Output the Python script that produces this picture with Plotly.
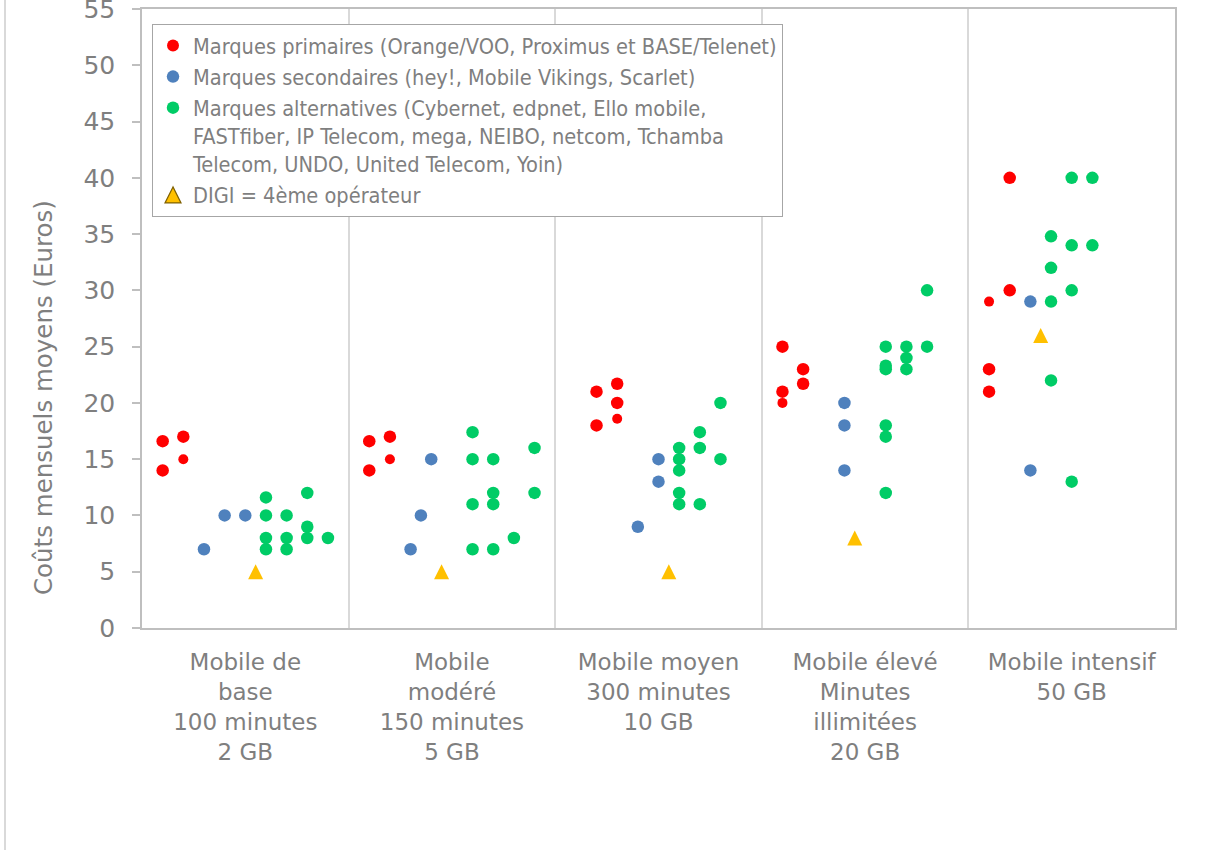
import plotly.graph_objects as go

# ---------------- data ----------------
categories = [
    "Mobile de<br>base<br>100 minutes<br>2 GB",
    "Mobile<br>modéré<br>150 minutes<br>5 GB",
    "Mobile moyen<br>300 minutes<br>10 GB",
    "Mobile élevé<br>Minutes<br>illimitées<br>20 GB",
    "Mobile intensif<br>50 GB",
]
category_centers = [0.5, 1.5, 2.5, 3.5, 4.5]
y_tick_values = [0, 5, 10, 15, 20, 25, 30, 35, 40, 45, 50, 55]

primary_name = "Marques primaires (Orange/VOO, Proximus et BASE/Telenet)"
primary_x = [0.1, 0.2, 0.1, 0.2,
             1.1, 1.2, 1.1, 1.2,
             2.2, 2.3, 2.3, 2.3, 2.2,
             3.1, 3.1, 3.1, 3.2, 3.2,
             4.2, 4.2, 4.1, 4.1, 4.1]
primary_y = [16.6, 17.0, 14.0, 15.0,
             16.6, 17.0, 14.0, 15.0,
             21.0, 21.7, 20.0, 18.6, 18.0,
             25.0, 21.0, 20.0, 23.0, 21.7,
             40.0, 30.0, 29.0, 23.0, 21.0]

secondary_name = "Marques secondaires (hey!, Mobile Vikings, Scarlet)"
secondary_x = [0.3, 0.4, 0.5,
               1.3, 1.35, 1.4,
               2.4, 2.5, 2.5,
               3.4, 3.4, 3.4,
               4.3, 4.3]
secondary_y = [7.0, 10.0, 10.0,
               7.0, 10.0, 15.0,
               9.0, 15.0, 13.0,
               20.0, 18.0, 14.0,
               29.0, 14.0]

alternative_name = ("Marques alternatives (Cybernet, edpnet, Ello mobile,<br>"
                    "FASTfiber, IP Telecom, mega, NEIBO, netcom, Tchamba<br>"
                    "Telecom, UNDO, United Telecom, Yoin)")
alternative_x = [0.6, 0.6, 0.6, 0.6, 0.7, 0.7, 0.7, 0.8, 0.8, 0.8, 0.9,
                 1.6, 1.6, 1.6, 1.6, 1.7, 1.7, 1.7, 1.7, 1.8, 1.9, 1.9,
                 2.6, 2.6, 2.6, 2.6, 2.6, 2.7, 2.7, 2.7, 2.8, 2.8,
                 3.6, 3.6, 3.6, 3.6, 3.6, 3.6, 3.7, 3.7, 3.7, 3.8, 3.8,
                 4.4, 4.4, 4.4, 4.4, 4.5, 4.5, 4.5, 4.5, 4.6, 4.6]
alternative_y = [11.6, 10.0, 8.0, 7.0, 10.0, 8.0, 7.0, 12.0, 9.0, 8.0, 8.0,
                 17.4, 15.0, 11.0, 7.0, 15.0, 12.0, 11.0, 7.0, 8.0, 16.0, 12.0,
                 16.0, 15.0, 14.0, 12.0, 11.0, 17.4, 16.0, 11.0, 20.0, 15.0,
                 25.0, 23.3, 23.0, 18.0, 17.0, 12.0, 25.0, 24.0, 23.0, 30.0, 25.0,
                 34.8, 32.0, 29.0, 22.0, 40.0, 34.0, 30.0, 13.0, 40.0, 34.0]

digi_name = "DIGI = 4ème opérateur"
digi_x = [0.55, 1.45, 2.55, 3.45, 4.35]
digi_y = [5.0, 5.0, 5.0, 8.0, 26.0]

# ---------------- style ----------------
GRAY_TEXT = "#7F7F7F"
SMALL_PRIMARY = {3, 7, 11, 15, 20}
primary_sizes = [10 if i in SMALL_PRIMARY else 12.5 for i in range(len(primary_x))]
legend_font = "DejaVu Sans Condensed, Liberation Sans Narrow, DejaVu Sans, sans-serif"

W, H = 1207, 850
ML, MR, MT, MB = 142, 32, 9, 222
PW, PH = W - ML - MR, H - MT - MB


def px_x(p):
    return (p - ML) / PW


def px_y(p):
    return (H - MB - p) / PH


fig = go.Figure()
fig.add_trace(go.Scatter(x=primary_x, y=primary_y, mode="markers", name=primary_name,
                         legendgroup="a",
                         marker=dict(color="#FF0000", size=primary_sizes, opacity=1,
                                     line=dict(width=0))))
fig.add_trace(go.Scatter(x=secondary_x, y=secondary_y, mode="markers", name=secondary_name,
                         legendgroup="b",
                         marker=dict(color="#4F81BD", size=12.5, opacity=1, line=dict(width=0))))
fig.add_trace(go.Scatter(x=alternative_x, y=alternative_y, mode="markers", name=alternative_name,
                         legendgroup="c",
                         marker=dict(color="#00CC66", size=12.5, opacity=1, line=dict(width=0))))
# DIGI points: isosceles triangle (height = width) centred on the value
fig.add_trace(go.Scatter(x=digi_x, y=digi_y, mode="markers", name=digi_name,
                         legendgroup="d", showlegend=False,
                         marker=dict(color="#FFC000", size=15, symbol="arrow-down",
                                     angle=180, standoff=7.5, opacity=1, line=dict(width=0))))
# legend key for the DIGI series (outlined triangle, as in the legend of the original)
fig.add_trace(go.Scatter(x=[None], y=[None], mode="markers", name=digi_name,
                         legendgroup="d", showlegend=True,
                         marker=dict(color="#FFC000", size=16, symbol="arrow-up",
                                     angle=0, standoff=8, opacity=1,
                                     line=dict(width=1.2, color="#7F6000"))))

fig.update_layout(
    width=W, height=H,
    margin=dict(l=ML, r=MR, t=MT, b=MB, autoexpand=False),
    paper_bgcolor="white", plot_bgcolor="white",
    font=dict(family="DejaVu Sans, sans-serif", color=GRAY_TEXT),
    showlegend=True,
    legend=dict(
        x=px_x(152), y=px_y(24), xanchor="left", yanchor="top",
        bgcolor="white", bordercolor="#A6A6A6", borderwidth=1,
        font=dict(family=legend_font, size=21.6, color=GRAY_TEXT),
        tracegroupgap=0, valign="top",
    ),
    xaxis=dict(
        range=[0, 5], tickmode="array", tickvals=category_centers, ticktext=categories,
        ticks="", showgrid=False, zeroline=False, automargin=False,
        showline=True, linecolor="#BFBFBF", linewidth=1.5, mirror=True,
        tickfont=dict(size=23, color=GRAY_TEXT),
        ticklabelstandoff=13,
        minor=dict(tickmode="linear", tick0=0, dtick=1, showgrid=True,
                   gridcolor="#D9D9D9", gridwidth=1.5, ticks=""),
    ),
    yaxis=dict(
        range=[0, 55], tickmode="array", tickvals=y_tick_values,
        ticks="outside", ticklen=8, tickcolor="#BFBFBF", tickwidth=1.5,
        showgrid=False, zeroline=False, automargin=False,
        showline=True, linecolor="#BFBFBF", linewidth=1.5, mirror=True,
        tickfont=dict(size=25, color=GRAY_TEXT),
        ticklabelstandoff=12, ticklabeloverflow="allow",
    ),
    annotations=[dict(
        text="Coûts mensuels moyens (Euros)", textangle=-90,
        xref="paper", yref="paper", x=px_x(43), y=px_y(398),
        xanchor="center", yanchor="middle", showarrow=False,
        font=dict(size=24.5, color=GRAY_TEXT, family="DejaVu Sans, sans-serif"),
    )],
    shapes=[dict(type="line", xref="paper", yref="paper",
                 x0=px_x(5), x1=px_x(5), y0=px_y(H), y1=px_y(0),
                 line=dict(color="#D9D9D9", width=2))],
)

fig.write_html("out.html", config={"displayModeBar": False},
               post_script="document.body.style.margin='0';")
